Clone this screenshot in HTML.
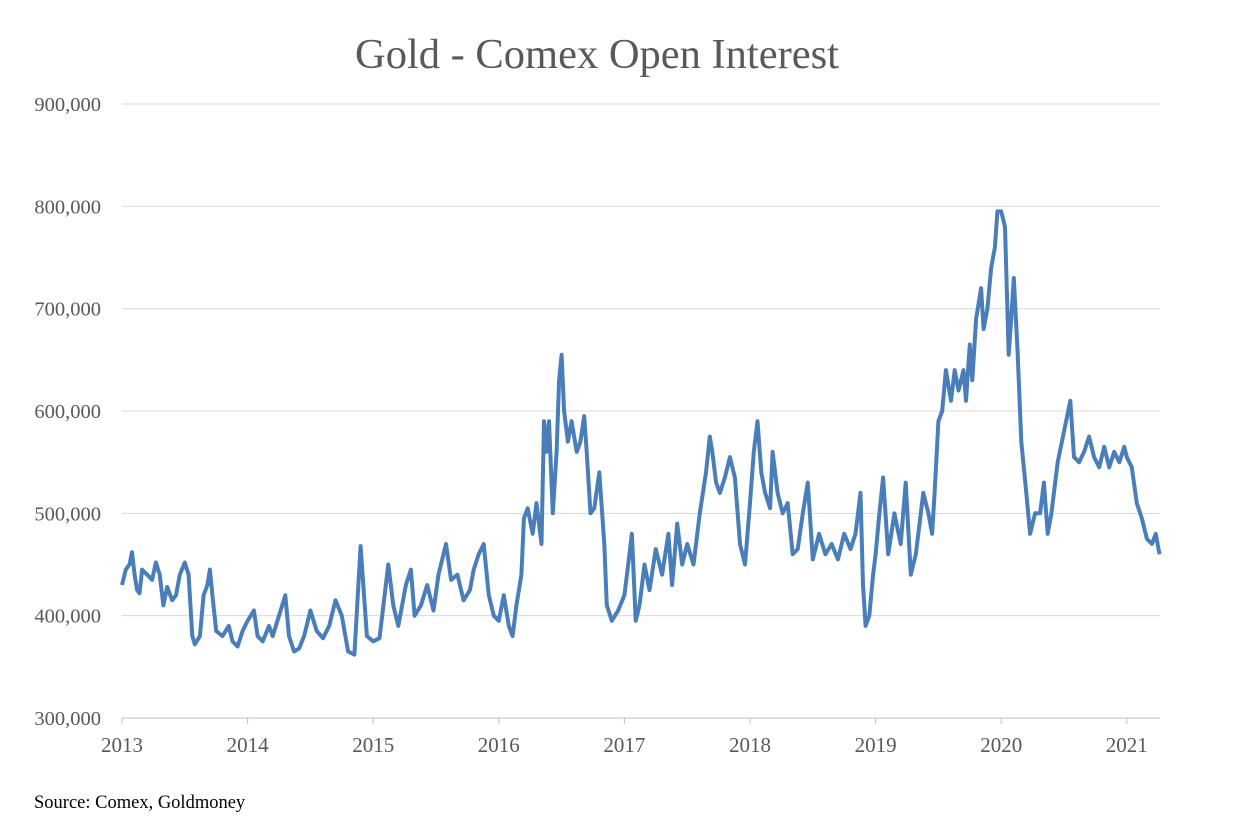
<!DOCTYPE html>
<html><head><meta charset="utf-8"><style>
body{margin:0;background:#fff;}
svg text{font-family:"Liberation Serif",serif;fill:#595959;}
</style></head><body>
<svg id="chart" width="1240" height="826" xmlns="http://www.w3.org/2000/svg">
<text x="597" y="68" font-size="42.5" text-anchor="middle">Gold - Comex Open Interest</text>
<g id="grid"></g><g id="yt"></g><g id="xt"></g><g id="series"></g>
<text x="34" y="808" font-size="18.5" style="fill:#000">Source: Comex, Goldmoney</text>
</svg>
<script>
const yTicks=[300000,400000,500000,600000,700000,800000,900000];
const yLabels=["300,000","400,000","500,000","600,000","700,000","800,000","900,000"];
const xYears=[2013,2014,2015,2016,2017,2018,2019,2020,2021];
const dates=[2013.0,2013.03,2013.06,2013.08,2013.1,2013.12,2013.14,2013.16,2013.2,2013.24,2013.27,2013.3,2013.33,2013.36,2013.4,2013.43,2013.46,2013.5,2013.53,2013.56,2013.58,2013.62,2013.65,2013.68,2013.7,2013.72,2013.75,2013.8,2013.85,2013.88,2013.92,2013.96,2014.0,2014.05,2014.08,2014.12,2014.17,2014.2,2014.25,2014.3,2014.33,2014.37,2014.41,2014.45,2014.5,2014.55,2014.6,2014.65,2014.7,2014.75,2014.8,2014.85,2014.9,2014.95,2015.0,2015.05,2015.12,2015.16,2015.2,2015.26,2015.3,2015.33,2015.38,2015.43,2015.48,2015.52,2015.58,2015.62,2015.67,2015.72,2015.77,2015.8,2015.84,2015.88,2015.92,2015.96,2016.0,2016.04,2016.08,2016.11,2016.14,2016.18,2016.2,2016.23,2016.27,2016.3,2016.34,2016.36,2016.38,2016.4,2016.43,2016.46,2016.48,2016.5,2016.52,2016.55,2016.58,2016.62,2016.65,2016.68,2016.7,2016.73,2016.76,2016.8,2016.84,2016.86,2016.9,2016.95,2017.0,2017.03,2017.06,2017.09,2017.12,2017.16,2017.2,2017.25,2017.3,2017.35,2017.38,2017.42,2017.46,2017.5,2017.55,2017.6,2017.65,2017.68,2017.7,2017.73,2017.76,2017.8,2017.84,2017.88,2017.92,2017.96,2018.0,2018.03,2018.06,2018.09,2018.12,2018.16,2018.18,2018.22,2018.26,2018.3,2018.34,2018.38,2018.42,2018.46,2018.5,2018.55,2018.6,2018.65,2018.7,2018.75,2018.8,2018.84,2018.88,2018.9,2018.92,2018.95,2018.98,2019.0,2019.03,2019.06,2019.1,2019.15,2019.2,2019.24,2019.28,2019.32,2019.38,2019.42,2019.45,2019.47,2019.5,2019.53,2019.56,2019.6,2019.63,2019.66,2019.7,2019.72,2019.75,2019.77,2019.8,2019.84,2019.86,2019.89,2019.92,2019.95,2019.97,2020.0,2020.03,2020.06,2020.08,2020.1,2020.13,2020.16,2020.2,2020.23,2020.27,2020.31,2020.34,2020.37,2020.4,2020.45,2020.5,2020.55,2020.58,2020.62,2020.66,2020.7,2020.74,2020.78,2020.82,2020.86,2020.9,2020.94,2020.98,2021.0,2021.04,2021.08,2021.12,2021.16,2021.2,2021.23,2021.26];
const values=[430,445,450,462,440,425,422,445,440,435,452,440,410,428,415,420,440,452,440,380,372,380,420,430,445,420,385,380,390,375,370,385,395,405,380,375,390,380,400,420,380,365,368,380,405,385,378,390,415,400,365,362,468,380,375,378,450,410,390,430,445,400,410,430,405,440,470,435,440,415,425,445,460,470,420,400,395,420,390,380,410,440,495,505,480,510,470,590,560,590,500,560,630,655,600,570,590,560,570,595,560,500,505,540,470,410,395,405,420,450,480,395,410,450,425,465,440,480,430,490,450,470,450,500,540,575,560,530,520,535,555,535,470,450,510,560,590,540,520,505,560,520,500,510,460,465,500,530,455,480,460,470,455,480,465,480,520,430,390,400,440,460,500,535,460,500,470,530,440,460,520,500,480,520,590,600,640,610,640,620,640,610,665,630,690,720,680,700,740,760,795,795,780,655,690,730,660,570,520,480,500,500,530,480,500,550,580,610,555,550,560,575,555,545,565,545,560,550,565,555,545,510,495,475,470,480,460];
const x0=122,yearW=125.6,yb=718,yPer=614/600000;
const X=d=>x0+(d-2013)*yearW, Y=v=>yb-(v-300000)*yPer;
const NS="http://www.w3.org/2000/svg";
const g=document.getElementById('grid'),yt=document.getElementById('yt'),xt=document.getElementById('xt'),s=document.getElementById('series');
yTicks.forEach((t,i)=>{
 const l=document.createElementNS(NS,'line');
 
 
 l.setAttribute('x1',x0);l.setAttribute('x2',1160);l.setAttribute('y1',Y(t));l.setAttribute('y2',Y(t));
 l.setAttribute('stroke',i==0?'#bfbfbf':'#d9d9d9');l.setAttribute('stroke-width',1);g.appendChild(l);
 const tx=document.createElementNS(NS,'text');
 
 
 tx.setAttribute('x',101);tx.setAttribute('y',Y(t)+7);tx.setAttribute('font-size',20.5);tx.setAttribute('text-anchor','end');
 tx.textContent=yLabels[i];yt.appendChild(tx);
});
xYears.forEach(yr=>{
 const tk=document.createElementNS(NS,'line');
 
 
 tk.setAttribute('x1',X(yr));tk.setAttribute('x2',X(yr));tk.setAttribute('y1',yb);tk.setAttribute('y2',yb+6);tk.setAttribute('stroke','#bfbfbf');xt.appendChild(tk);
 const tx=document.createElementNS(NS,'text');
 
 
 tx.setAttribute('x',X(yr));tx.setAttribute('y',752);tx.setAttribute('font-size',21);tx.setAttribute('text-anchor','middle');
 tx.textContent=yr;xt.appendChild(tx);
});
const p=document.createElementNS(NS,'path');


p.setAttribute('d',dates.map((d,i)=>(i?'L':'M')+X(d).toFixed(1)+','+Y(values[i]*1000).toFixed(1)).join(''));
p.setAttribute('fill','none');p.setAttribute('stroke','#4a7ebb');p.setAttribute('stroke-width',4);p.setAttribute('stroke-linejoin','round');
s.appendChild(p);
</script>
</body></html>
